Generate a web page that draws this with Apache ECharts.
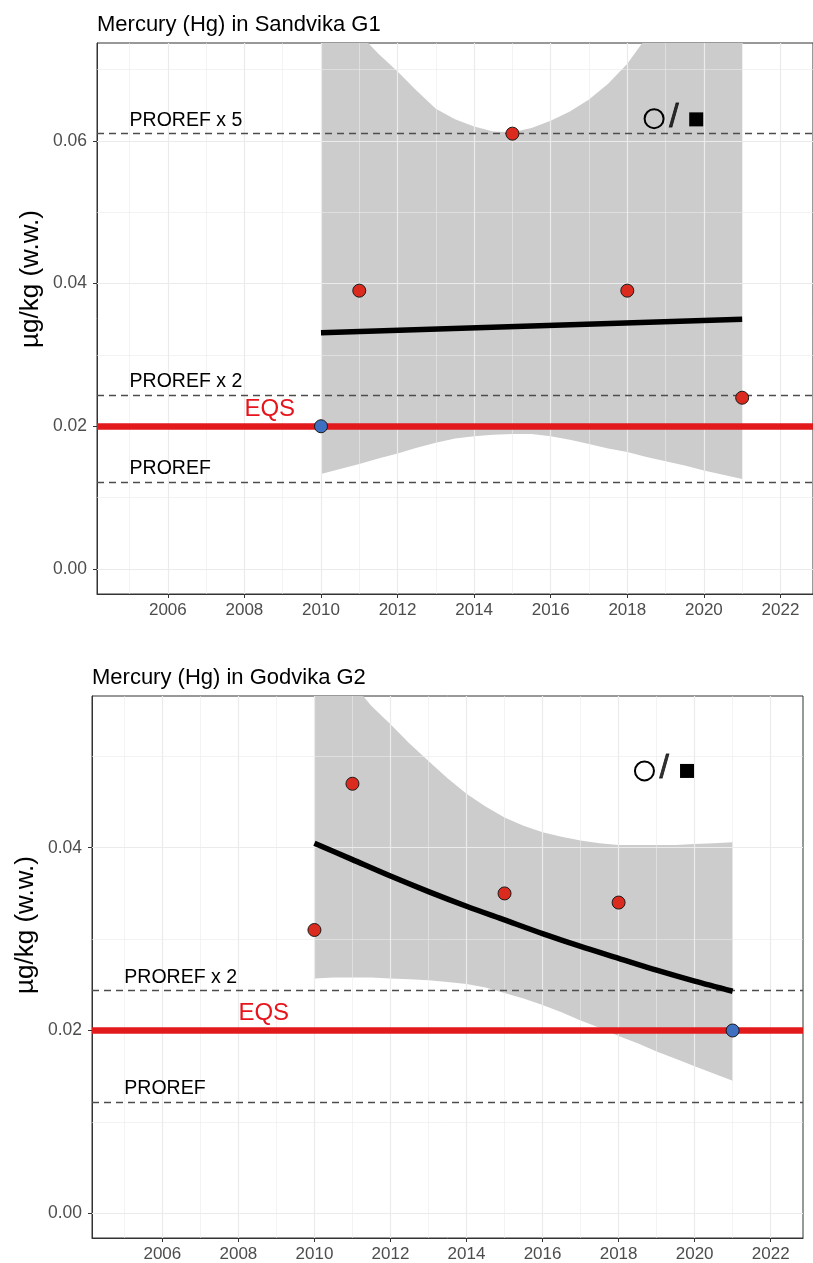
<!DOCTYPE html>
<html>
<head>
<meta charset="utf-8">
<script src="https://cdn.jsdelivr.net/npm/echarts@6/dist/echarts.min.js"></script>
<style>
  html, body { margin: 0; padding: 0; background: #ffffff; }
  #chart { width: 813px; height: 1263px; }
</style>
</head>
<body>
<div id="chart"></div>
<script>
// ---- axis breaks and grid positions ----
const xTickYears = [2006, 2008, 2010, 2012, 2014, 2016, 2018, 2020, 2022];
const xGridYears = [2005, 2006, 2007, 2008, 2009, 2010, 2011, 2012, 2013, 2014, 2015, 2016, 2017, 2018, 2019, 2020, 2021, 2022];
const sandvikaYTicks = [0, 0.02, 0.04, 0.06];
const sandvikaYGrid = [0, 0.01, 0.02, 0.03, 0.04, 0.05, 0.06, 0.07];
const godvikaYTicks = [0, 0.02, 0.04];
const godvikaYGrid = [0, 0.01, 0.02, 0.03, 0.04, 0.05];

// ---- reference levels ----
const PROREF = 0.0122;
const EQS = 0.020;
const sandvikaProrefFactors = [1, 2, 5];
const godvikaProrefFactors = [1, 2];

// ---- Sandvika G1 ----
const sandvikaYears = [2010, 2011, 2015, 2018, 2021];
const sandvikaHg = [0.020, 0.039, 0.061, 0.039, 0.024];
const bandYears = [2010, 2010.5, 2011, 2011.5, 2012, 2012.5, 2013, 2013.5, 2014, 2014.5, 2015, 2015.5,
                   2016, 2016.5, 2017, 2017.5, 2018, 2018.5, 2019, 2019.5, 2020, 2020.5, 2021];
const sandvikaLower = [0.0133, 0.0140, 0.0147, 0.0155, 0.0162, 0.0170, 0.0177, 0.0183, 0.0186, 0.0188, 0.0189, 0.0189,
                       0.0186, 0.0181, 0.0175, 0.0169, 0.0164, 0.0157, 0.0151, 0.0145, 0.0138, 0.0132, 0.0126];
const sandvikaUpper = [0.084, 0.079, 0.075, 0.0722, 0.0697, 0.0670, 0.0645, 0.0630, 0.0620, 0.0613, 0.0612, 0.0618,
                       0.0628, 0.0641, 0.0658, 0.0680, 0.0708, 0.0745, 0.079, 0.084, 0.089, 0.095, 0.101];
const sandvikaTrendYears = [2010, 2021];
const sandvikaTrend = [0.0331, 0.0350];

// ---- Godvika G2 ----
const godvikaYears = [2010, 2011, 2015, 2018, 2021];
const godvikaHg = [0.031, 0.047, 0.035, 0.034, 0.020];
const godvikaLower = [0.0257, 0.0258, 0.0258, 0.0258, 0.0257, 0.0256, 0.0255, 0.0253, 0.0251, 0.0247, 0.0241, 0.0235,
                      0.0228, 0.0220, 0.0211, 0.0203, 0.0194, 0.0186, 0.0177, 0.0169, 0.0161, 0.0153, 0.0145];
const godvikaUpper = [0.066, 0.062, 0.058, 0.0555, 0.0535, 0.0514, 0.0495, 0.0476, 0.0459, 0.0445, 0.0433, 0.0424,
                      0.0417, 0.0412, 0.0408, 0.0405, 0.0403, 0.0403, 0.0403, 0.0403, 0.0404, 0.0405, 0.0406];
const godvikaTrendYears = [2010, 2011, 2012, 2013, 2014, 2015, 2016, 2017, 2018, 2019, 2020, 2021];
const godvikaTrend = [0.0405, 0.0387, 0.0369, 0.0352, 0.0336, 0.0321, 0.0306, 0.0292, 0.0279, 0.0266, 0.0254, 0.0243];

// trend-direction marker (circle / square) anchor per panel
const sandvikaMarker = { circle: [2018.7, 0.0631], slash: [2019.22, 0.0633], square: [2019.8, 0.0630] };
const godvikaMarker = { circle: [2018.68, 0.0484], slash: [2019.2, 0.0486], square: [2019.8, 0.0484] };

const FONT = '"Liberation Sans", Arial, Helvetica, sans-serif';
const RED_PT = '#db2b1e';
const BLUE_PT = '#3f6fc0';

function zip(xs, ys) { return xs.map((x, i) => [x, ys[i]]); }

function panelSeries(idx, p) {
  const axes = { xAxisIndex: idx, yAxisIndex: idx };
  const series = [];
  // background grid lines
  series.push(Object.assign({
    type: 'line', data: [], z: 1, silent: true,
    markLine: {
      silent: true, symbol: ['none', 'none'], label: { show: false }, animation: false, precision: 6,
      data: xGridYears.map(v => ({ xAxis: v, lineStyle: { color: '#ebebeb', width: v % 2 === 0 ? 1.2 : 0.6, type: 'solid' } }))
        .concat(p.yGrid.map((v, i) => ({ yAxis: v, lineStyle: { color: '#ebebeb', width: i % 2 === 0 ? 1.2 : 0.6, type: 'solid' } })))
    }
  }, axes));
  // confidence band: upper edge forward, lower edge back
  series.push(Object.assign({
    type: 'custom', z: 2, silent: true, clip: true,
    data: [[p.bandYears[0], p.lower[0]]],
    encode: { x: 0, y: 1 },
    renderItem: function (params, api) {
      const pts = [];
      for (let i = 0; i < p.bandYears.length; i++) pts.push(api.coord([p.bandYears[i], p.upper[i]]));
      for (let i = p.bandYears.length - 1; i >= 0; i--) pts.push(api.coord([p.bandYears[i], p.lower[i]]));
      return { type: 'polygon', shape: { points: pts }, style: { fill: '#cccccc', stroke: null } };
    }
  }, axes));
  // PROREF dashed lines and EQS line
  series.push(Object.assign({
    type: 'line', data: [], z: 3, silent: true,
    markLine: {
      silent: true, symbol: ['none', 'none'], label: { show: false }, animation: false, precision: 6,
      data: p.factors.map(f => ({ yAxis: PROREF * f, lineStyle: { color: '#4d4d4d', width: 1.3, type: [7, 5] } }))
    }
  }, axes));
  series.push(Object.assign({
    type: 'line', data: [], z: 4, silent: true,
    markLine: {
      silent: true, symbol: ['none', 'none'], label: { show: false }, animation: false, precision: 6,
      data: [{ yAxis: EQS, lineStyle: { color: '#e31a1c', width: 6.5, type: 'solid' } }]
    }
  }, axes));
  // fitted trend
  series.push(Object.assign({
    type: 'line', data: zip(p.trendYears, p.trend), z: 5, silent: true, smooth: 0.3,
    symbol: 'none', lineStyle: { color: '#000000', width: 5.5, cap: 'butt' }
  }, axes));
  // measurements
  series.push(Object.assign({
    type: 'scatter', z: 6, silent: true, symbolSize: 13,
    data: p.years.map((y, i) => ({
      value: [y, p.values[i]],
      itemStyle: { color: p.values[i] > EQS ? RED_PT : BLUE_PT, borderColor: '#1a1a1a', borderWidth: 1, opacity: 1 }
    }))
  }, axes));
  // line labels
  const labelData = p.factors.map(f => ({
    value: [2005, PROREF * f],
    label: { formatter: f === 1 ? 'PROREF' : 'PROREF x ' + f, color: '#000000', fontSize: 19.5, offset: [0, -13] }
  }));
  labelData.push({
    value: [2008, EQS],
    label: { formatter: 'EQS', color: '#e8141c', fontSize: 24, offset: [0, -17] }
  });
  series.push(Object.assign({
    type: 'scatter', z: 7, silent: true, symbolSize: 0,
    itemStyle: { opacity: 1 },
    label: { show: true, position: 'right', distance: 0, fontFamily: FONT },
    data: labelData
  }, axes));
  // trend marker: open circle / filled square
  series.push(Object.assign({
    type: 'scatter', z: 8, silent: true,
    data: [
      { value: p.marker.circle, symbol: 'circle', symbolSize: 19,
        itemStyle: { color: 'rgba(0,0,0,0)', borderColor: '#000000', borderWidth: 2, opacity: 1 } },
      { value: p.marker.slash, symbolSize: 0,
        label: { show: true, position: 'inside', formatter: '/', fontSize: 34, color: '#000000', fontFamily: FONT,
                 textBorderColor: '#000000', textBorderWidth: 0.8 } },
      { value: p.marker.square, symbol: 'rect', symbolSize: 14, itemStyle: { color: '#000000', opacity: 1 } }
    ]
  }, axes));
  return series;
}

function xAxisFor(idx) {
  return {
    gridIndex: idx, type: 'value', min: 2004.15, max: 2022.85,
    axisLine: { show: true, onZero: false, lineStyle: { color: '#333333', width: 1 } },
    axisTick: { show: true, length: 4, customValues: xTickYears, lineStyle: { color: '#333333', width: 1 } },
    axisLabel: { customValues: xTickYears, formatter: v => String(v), color: '#4d4d4d', fontSize: 17, fontFamily: FONT, margin: 8 },
    splitLine: { show: false }
  };
}
function yAxisFor(idx, min, max, ticks) {
  return {
    gridIndex: idx, type: 'value', min: min, max: max,
    axisLine: { show: true, onZero: false, lineStyle: { color: '#333333', width: 1 } },
    axisTick: { show: true, length: 4, customValues: ticks, lineStyle: { color: '#333333', width: 1 } },
    axisLabel: { customValues: ticks, formatter: v => v.toFixed(2), color: '#4d4d4d', fontSize: 17.5, fontFamily: FONT, margin: 10 },
    splitLine: { show: false }
  };
}

const chart = echarts.init(document.getElementById('chart'), null, { renderer: 'canvas' });
chart.setOption({
  animation: false,
  backgroundColor: '#ffffff',
  textStyle: { fontFamily: FONT },
  title: [
    { text: 'Mercury (Hg) in Sandvika G1', left: 92, top: 9, textStyle: { fontSize: 22, fontWeight: 'normal', color: '#000000', fontFamily: FONT } },
    { text: 'Mercury (Hg) in Godvika G2', left: 87, top: 662, textStyle: { fontSize: 22, fontWeight: 'normal', color: '#000000', fontFamily: FONT } }
  ],
  grid: [
    { left: 97, top: 43, width: 720, height: 551, show: true, borderColor: '#333333', borderWidth: 1, backgroundColor: 'transparent' },
    { left: 92, top: 696, width: 711, height: 544, show: true, borderColor: '#333333', borderWidth: 1, backgroundColor: 'transparent' }
  ],
  xAxis: [xAxisFor(0), xAxisFor(1)],
  yAxis: [
    yAxisFor(0, -0.0035, 0.0737, sandvikaYTicks),
    yAxisFor(1, -0.0027, 0.0566, godvikaYTicks)
  ],
  graphic: [
    { type: 'text', x: 31, y: 279, rotation: Math.PI / 2,
      style: { text: 'µg/kg (w.w.)', font: '26px "Liberation Sans", Arial, sans-serif', fill: '#000000', align: 'center', verticalAlign: 'middle' } },
    { type: 'text', x: 26, y: 925, rotation: Math.PI / 2,
      style: { text: 'µg/kg (w.w.)', font: '26px "Liberation Sans", Arial, sans-serif', fill: '#000000', align: 'center', verticalAlign: 'middle' } }
  ],
  series: [].concat(
    panelSeries(0, {
      yGrid: sandvikaYGrid, factors: sandvikaProrefFactors,
      years: sandvikaYears, values: sandvikaHg,
      bandYears: bandYears, lower: sandvikaLower, upper: sandvikaUpper,
      trendYears: sandvikaTrendYears, trend: sandvikaTrend, marker: sandvikaMarker
    }),
    panelSeries(1, {
      yGrid: godvikaYGrid, factors: godvikaProrefFactors,
      years: godvikaYears, values: godvikaHg,
      bandYears: bandYears, lower: godvikaLower, upper: godvikaUpper,
      trendYears: godvikaTrendYears, trend: godvikaTrend, marker: godvikaMarker
    })
  )
});
</script>
</body>
</html>
